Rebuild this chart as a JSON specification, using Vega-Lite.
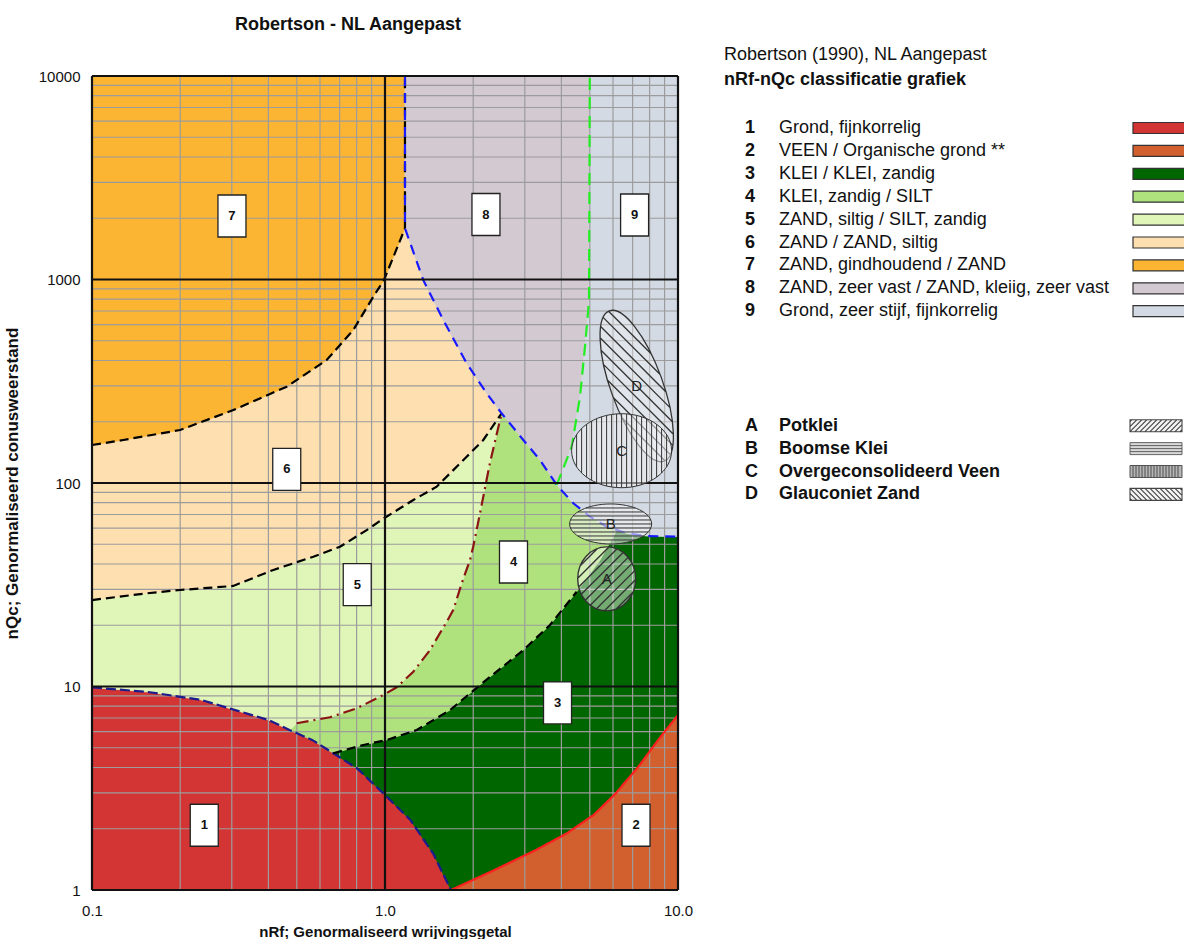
{
  "$schema": "https://vega.github.io/schema/vega-lite/v6.json",
  "width": 586,
  "height": 814,
  "autosize": {"type": "none"},
  "padding": {"left": 92, "top": 76, "right": 506, "bottom": 49},
  "background": "white",
  "config": {
    "font": "Liberation Sans",
    "view": {"stroke": null},
    "text": {"font": "Liberation Sans"}
  },
  "title": {
    "text": "Robertson - NL Aangepast",
    "fontSize": 18,
    "fontWeight": "bold",
    "color": "#111",
    "anchor": "middle",
    "dx": -37,
    "baseline": "bottom",
    "offset": -6
  },
  "datasets": {
    "zones": [
      {"z": "1", "i": 0, "x": 0.1, "y": 1}, {"z": "1", "i": 1, "x": 0.1, "y": 9.9}, {"z": "1", "i": 2, "x": 0.155, "y": 9.4},
      {"z": "1", "i": 3, "x": 0.235, "y": 8.6}, {"z": "1", "i": 4, "x": 0.4, "y": 6.85}, {"z": "1", "i": 5, "x": 0.474, "y": 6.1},
      {"z": "1", "i": 6, "x": 0.566, "y": 5.45}, {"z": "1", "i": 7, "x": 0.666, "y": 4.7}, {"z": "1", "i": 8, "x": 0.803, "y": 3.96},
      {"z": "1", "i": 9, "x": 1.0, "y": 2.93}, {"z": "1", "i": 10, "x": 1.22, "y": 2.21}, {"z": "1", "i": 11, "x": 1.46, "y": 1.51},
      {"z": "1", "i": 12, "x": 1.68, "y": 1},

      {"z": "2", "i": 0, "x": 1.68, "y": 1}, {"z": "2", "i": 1, "x": 2.3, "y": 1.23}, {"z": "2", "i": 2, "x": 3.27, "y": 1.57},
      {"z": "2", "i": 3, "x": 4.18, "y": 1.9}, {"z": "2", "i": 4, "x": 5.16, "y": 2.34}, {"z": "2", "i": 5, "x": 6.14, "y": 2.99},
      {"z": "2", "i": 6, "x": 7.33, "y": 4.04}, {"z": "2", "i": 7, "x": 8.73, "y": 5.67}, {"z": "2", "i": 8, "x": 10, "y": 7.24},
      {"z": "2", "i": 9, "x": 10, "y": 1},

      {"z": "3", "i": 0, "x": 0.666, "y": 4.7}, {"z": "3", "i": 1, "x": 0.843, "y": 5.16}, {"z": "3", "i": 2, "x": 1.013, "y": 5.46},
      {"z": "3", "i": 3, "x": 1.283, "y": 6.11}, {"z": "3", "i": 4, "x": 1.667, "y": 7.66}, {"z": "3", "i": 5, "x": 2.11, "y": 10.17},
      {"z": "3", "i": 6, "x": 2.965, "y": 15.1}, {"z": "3", "i": 7, "x": 3.657, "y": 20.05}, {"z": "3", "i": 8, "x": 4.51, "y": 29.2},
      {"z": "3", "i": 9, "x": 5.42, "y": 41.8}, {"z": "3", "i": 10, "x": 6.19, "y": 58.8}, {"z": "3", "i": 11, "x": 6.68, "y": 56.6},
      {"z": "3", "i": 12, "x": 7.82, "y": 54.9}, {"z": "3", "i": 13, "x": 10, "y": 54.5}, {"z": "3", "i": 14, "x": 10, "y": 7.24},
      {"z": "3", "i": 15, "x": 8.73, "y": 5.67}, {"z": "3", "i": 16, "x": 7.33, "y": 4.04}, {"z": "3", "i": 17, "x": 6.14, "y": 2.99},
      {"z": "3", "i": 18, "x": 5.16, "y": 2.34}, {"z": "3", "i": 19, "x": 4.18, "y": 1.9}, {"z": "3", "i": 20, "x": 3.27, "y": 1.57},
      {"z": "3", "i": 21, "x": 2.3, "y": 1.23}, {"z": "3", "i": 22, "x": 1.68, "y": 1}, {"z": "3", "i": 23, "x": 1.46, "y": 1.51},
      {"z": "3", "i": 24, "x": 1.22, "y": 2.21}, {"z": "3", "i": 25, "x": 1.0, "y": 2.93}, {"z": "3", "i": 26, "x": 0.803, "y": 3.96},

      {"z": "4", "i": 0, "x": 2.5, "y": 220}, {"z": "4", "i": 1, "x": 2.965, "y": 162.7}, {"z": "4", "i": 2, "x": 3.381, "y": 129.7},
      {"z": "4", "i": 3, "x": 3.855, "y": 97.8}, {"z": "4", "i": 4, "x": 4.392, "y": 79.5}, {"z": "4", "i": 5, "x": 5.008, "y": 68.3},
      {"z": "4", "i": 6, "x": 5.71, "y": 61}, {"z": "4", "i": 7, "x": 6.19, "y": 58.8}, {"z": "4", "i": 8, "x": 5.42, "y": 41.8},
      {"z": "4", "i": 9, "x": 4.51, "y": 29.2}, {"z": "4", "i": 10, "x": 3.657, "y": 20.05}, {"z": "4", "i": 11, "x": 2.965, "y": 15.1},
      {"z": "4", "i": 12, "x": 2.11, "y": 10.17}, {"z": "4", "i": 13, "x": 1.667, "y": 7.66}, {"z": "4", "i": 14, "x": 1.283, "y": 6.11},
      {"z": "4", "i": 15, "x": 1.013, "y": 5.46}, {"z": "4", "i": 16, "x": 0.843, "y": 5.16}, {"z": "4", "i": 17, "x": 0.666, "y": 4.7},
      {"z": "4", "i": 18, "x": 0.566, "y": 5.45}, {"z": "4", "i": 19, "x": 0.474, "y": 6.1}, {"z": "4", "i": 20, "x": 0.4995, "y": 6.6},
      {"z": "4", "i": 21, "x": 0.649, "y": 7.06}, {"z": "4", "i": 22, "x": 0.8005, "y": 7.81}, {"z": "4", "i": 23, "x": 0.987, "y": 9.08},
      {"z": "4", "i": 24, "x": 1.096, "y": 9.91}, {"z": "4", "i": 25, "x": 1.249, "y": 11.82}, {"z": "4", "i": 26, "x": 1.424, "y": 15.1},
      {"z": "4", "i": 27, "x": 1.624, "y": 20.8}, {"z": "4", "i": 28, "x": 1.711, "y": 23.8}, {"z": "4", "i": 29, "x": 1.827, "y": 32.1},
      {"z": "4", "i": 30, "x": 1.95, "y": 41.8}, {"z": "4", "i": 31, "x": 2.0, "y": 48.6}, {"z": "4", "i": 32, "x": 2.11, "y": 71},
      {"z": "4", "i": 33, "x": 2.28, "y": 125},

      {"z": "5", "i": 0, "x": 0.1, "y": 26.6}, {"z": "5", "i": 1, "x": 0.1537, "y": 28.7}, {"z": "5", "i": 2, "x": 0.1997, "y": 29.8},
      {"z": "5", "i": 3, "x": 0.3036, "y": 31.2}, {"z": "5", "i": 4, "x": 0.4157, "y": 37.4}, {"z": "5", "i": 5, "x": 0.569, "y": 43.4},
      {"z": "5", "i": 6, "x": 0.702, "y": 48.6}, {"z": "5", "i": 7, "x": 0.866, "y": 58.7}, {"z": "5", "i": 8, "x": 0.992, "y": 67.1},
      {"z": "5", "i": 9, "x": 1.125, "y": 75.1}, {"z": "5", "i": 10, "x": 1.249, "y": 82.5}, {"z": "5", "i": 11, "x": 1.501, "y": 95.9},
      {"z": "5", "i": 12, "x": 1.9, "y": 134.6}, {"z": "5", "i": 13, "x": 2.165, "y": 162.7}, {"z": "5", "i": 14, "x": 2.5, "y": 220},
      {"z": "5", "i": 15, "x": 2.28, "y": 125}, {"z": "5", "i": 16, "x": 2.11, "y": 71}, {"z": "5", "i": 17, "x": 2.0, "y": 48.6},
      {"z": "5", "i": 18, "x": 1.95, "y": 41.8}, {"z": "5", "i": 19, "x": 1.827, "y": 32.1}, {"z": "5", "i": 20, "x": 1.711, "y": 23.8},
      {"z": "5", "i": 21, "x": 1.624, "y": 20.8}, {"z": "5", "i": 22, "x": 1.424, "y": 15.1}, {"z": "5", "i": 23, "x": 1.249, "y": 11.82},
      {"z": "5", "i": 24, "x": 1.096, "y": 9.91}, {"z": "5", "i": 25, "x": 0.987, "y": 9.08}, {"z": "5", "i": 26, "x": 0.8005, "y": 7.81},
      {"z": "5", "i": 27, "x": 0.649, "y": 7.06}, {"z": "5", "i": 28, "x": 0.4995, "y": 6.6}, {"z": "5", "i": 29, "x": 0.474, "y": 6.1},
      {"z": "5", "i": 30, "x": 0.4, "y": 6.85}, {"z": "5", "i": 31, "x": 0.235, "y": 8.6}, {"z": "5", "i": 32, "x": 0.155, "y": 9.4},
      {"z": "5", "i": 33, "x": 0.1, "y": 9.9},

      {"z": "6", "i": 0, "x": 0.1, "y": 153.7}, {"z": "6", "i": 1, "x": 0.1279, "y": 162.7}, {"z": "6", "i": 2, "x": 0.1997, "y": 182.1},
      {"z": "6", "i": 3, "x": 0.3036, "y": 228.4}, {"z": "6", "i": 4, "x": 0.462, "y": 297.3}, {"z": "6", "i": 5, "x": 0.6324, "y": 402.1},
      {"z": "6", "i": 6, "x": 0.7792, "y": 564.8}, {"z": "6", "i": 7, "x": 0.9122, "y": 823}, {"z": "6", "i": 8, "x": 0.992, "y": 994},
      {"z": "6", "i": 9, "x": 1.17, "y": 1784}, {"z": "6", "i": 10, "x": 1.351, "y": 994}, {"z": "6", "i": 11, "x": 1.581, "y": 632},
      {"z": "6", "i": 12, "x": 1.9, "y": 387.4}, {"z": "6", "i": 13, "x": 2.224, "y": 275.9}, {"z": "6", "i": 14, "x": 2.5, "y": 220},
      {"z": "6", "i": 15, "x": 2.165, "y": 162.7}, {"z": "6", "i": 16, "x": 1.9, "y": 134.6}, {"z": "6", "i": 17, "x": 1.501, "y": 95.9},
      {"z": "6", "i": 18, "x": 1.249, "y": 82.5}, {"z": "6", "i": 19, "x": 1.125, "y": 75.1}, {"z": "6", "i": 20, "x": 0.992, "y": 67.1},
      {"z": "6", "i": 21, "x": 0.866, "y": 58.7}, {"z": "6", "i": 22, "x": 0.702, "y": 48.6}, {"z": "6", "i": 23, "x": 0.569, "y": 43.4},
      {"z": "6", "i": 24, "x": 0.4157, "y": 37.4}, {"z": "6", "i": 25, "x": 0.3036, "y": 31.2}, {"z": "6", "i": 26, "x": 0.1997, "y": 29.8},
      {"z": "6", "i": 27, "x": 0.1537, "y": 28.7}, {"z": "6", "i": 28, "x": 0.1, "y": 26.6},

      {"z": "7", "i": 0, "x": 0.1, "y": 10000}, {"z": "7", "i": 1, "x": 1.17, "y": 10000}, {"z": "7", "i": 2, "x": 1.17, "y": 1784},
      {"z": "7", "i": 3, "x": 0.992, "y": 994}, {"z": "7", "i": 4, "x": 0.9122, "y": 823}, {"z": "7", "i": 5, "x": 0.7792, "y": 564.8},
      {"z": "7", "i": 6, "x": 0.6324, "y": 402.1}, {"z": "7", "i": 7, "x": 0.462, "y": 297.3}, {"z": "7", "i": 8, "x": 0.3036, "y": 228.4},
      {"z": "7", "i": 9, "x": 0.1997, "y": 182.1}, {"z": "7", "i": 10, "x": 0.1279, "y": 162.7}, {"z": "7", "i": 11, "x": 0.1, "y": 153.7},

      {"z": "8", "i": 0, "x": 1.17, "y": 10000}, {"z": "8", "i": 1, "x": 5, "y": 10000}, {"z": "8", "i": 2, "x": 4.97, "y": 793},
      {"z": "8", "i": 3, "x": 4.815, "y": 467.6}, {"z": "8", "i": 4, "x": 4.63, "y": 265.5}, {"z": "8", "i": 5, "x": 4.338, "y": 150.8},
      {"z": "8", "i": 6, "x": 3.855, "y": 97.8}, {"z": "8", "i": 7, "x": 3.381, "y": 129.7}, {"z": "8", "i": 8, "x": 2.965, "y": 162.7},
      {"z": "8", "i": 9, "x": 2.5, "y": 220}, {"z": "8", "i": 10, "x": 2.224, "y": 275.9}, {"z": "8", "i": 11, "x": 1.9, "y": 387.4},
      {"z": "8", "i": 12, "x": 1.581, "y": 632}, {"z": "8", "i": 13, "x": 1.351, "y": 994}, {"z": "8", "i": 14, "x": 1.17, "y": 1784},

      {"z": "9", "i": 0, "x": 5, "y": 10000}, {"z": "9", "i": 1, "x": 10, "y": 10000}, {"z": "9", "i": 2, "x": 10, "y": 54.5},
      {"z": "9", "i": 3, "x": 7.82, "y": 54.9}, {"z": "9", "i": 4, "x": 6.68, "y": 56.6}, {"z": "9", "i": 5, "x": 6.19, "y": 58.8},
      {"z": "9", "i": 6, "x": 5.71, "y": 61}, {"z": "9", "i": 7, "x": 5.008, "y": 68.3}, {"z": "9", "i": 8, "x": 4.392, "y": 79.5},
      {"z": "9", "i": 9, "x": 3.855, "y": 97.8}, {"z": "9", "i": 10, "x": 4.338, "y": 150.8}, {"z": "9", "i": 11, "x": 4.63, "y": 265.5},
      {"z": "9", "i": 12, "x": 4.815, "y": 467.6}, {"z": "9", "i": 13, "x": 4.97, "y": 793}
    ],
    "bounds": [
      {"b": "B1", "i": 0, "x": 0.1, "y": 9.9}, {"b": "B1", "i": 1, "x": 0.155, "y": 9.4}, {"b": "B1", "i": 2, "x": 0.235, "y": 8.6},
      {"b": "B1", "i": 3, "x": 0.4, "y": 6.85}, {"b": "B1", "i": 4, "x": 0.474, "y": 6.1}, {"b": "B1", "i": 5, "x": 0.566, "y": 5.45},
      {"b": "B1", "i": 6, "x": 0.666, "y": 4.7}, {"b": "B1", "i": 7, "x": 0.803, "y": 3.96}, {"b": "B1", "i": 8, "x": 1.0, "y": 2.93},
      {"b": "B1", "i": 9, "x": 1.22, "y": 2.21}, {"b": "B1", "i": 10, "x": 1.46, "y": 1.51}, {"b": "B1", "i": 11, "x": 1.68, "y": 1},

      {"b": "B2", "i": 0, "x": 1.68, "y": 1}, {"b": "B2", "i": 1, "x": 2.3, "y": 1.23}, {"b": "B2", "i": 2, "x": 3.27, "y": 1.57},
      {"b": "B2", "i": 3, "x": 4.18, "y": 1.9}, {"b": "B2", "i": 4, "x": 5.16, "y": 2.34}, {"b": "B2", "i": 5, "x": 6.14, "y": 2.99},
      {"b": "B2", "i": 6, "x": 7.33, "y": 4.04}, {"b": "B2", "i": 7, "x": 8.73, "y": 5.67}, {"b": "B2", "i": 8, "x": 10, "y": 7.24},

      {"b": "B3", "i": 0, "x": 0.666, "y": 4.7}, {"b": "B3", "i": 1, "x": 0.843, "y": 5.16}, {"b": "B3", "i": 2, "x": 1.013, "y": 5.46},
      {"b": "B3", "i": 3, "x": 1.283, "y": 6.11}, {"b": "B3", "i": 4, "x": 1.667, "y": 7.66}, {"b": "B3", "i": 5, "x": 2.11, "y": 10.17},
      {"b": "B3", "i": 6, "x": 2.965, "y": 15.1}, {"b": "B3", "i": 7, "x": 3.657, "y": 20.05}, {"b": "B3", "i": 8, "x": 4.51, "y": 29.2},

      {"b": "B4", "i": 0, "x": 0.4995, "y": 6.6}, {"b": "B4", "i": 1, "x": 0.649, "y": 7.06}, {"b": "B4", "i": 2, "x": 0.8005, "y": 7.81},
      {"b": "B4", "i": 3, "x": 0.987, "y": 9.08}, {"b": "B4", "i": 4, "x": 1.096, "y": 9.91}, {"b": "B4", "i": 5, "x": 1.249, "y": 11.82},
      {"b": "B4", "i": 6, "x": 1.424, "y": 15.1}, {"b": "B4", "i": 7, "x": 1.624, "y": 20.8}, {"b": "B4", "i": 8, "x": 1.711, "y": 23.8},
      {"b": "B4", "i": 9, "x": 1.827, "y": 32.1}, {"b": "B4", "i": 10, "x": 1.95, "y": 41.8}, {"b": "B4", "i": 11, "x": 2.0, "y": 48.6},
      {"b": "B4", "i": 12, "x": 2.11, "y": 71}, {"b": "B4", "i": 13, "x": 2.28, "y": 125}, {"b": "B4", "i": 14, "x": 2.5, "y": 220},

      {"b": "B5", "i": 0, "x": 0.1, "y": 26.6}, {"b": "B5", "i": 1, "x": 0.1537, "y": 28.7}, {"b": "B5", "i": 2, "x": 0.1997, "y": 29.8},
      {"b": "B5", "i": 3, "x": 0.3036, "y": 31.2}, {"b": "B5", "i": 4, "x": 0.4157, "y": 37.4}, {"b": "B5", "i": 5, "x": 0.569, "y": 43.4},
      {"b": "B5", "i": 6, "x": 0.702, "y": 48.6}, {"b": "B5", "i": 7, "x": 0.866, "y": 58.7}, {"b": "B5", "i": 8, "x": 0.992, "y": 67.1},
      {"b": "B5", "i": 9, "x": 1.125, "y": 75.1}, {"b": "B5", "i": 10, "x": 1.249, "y": 82.5}, {"b": "B5", "i": 11, "x": 1.501, "y": 95.9},
      {"b": "B5", "i": 12, "x": 1.9, "y": 134.6}, {"b": "B5", "i": 13, "x": 2.165, "y": 162.7}, {"b": "B5", "i": 14, "x": 2.5, "y": 220},

      {"b": "B6", "i": 0, "x": 0.1, "y": 153.7}, {"b": "B6", "i": 1, "x": 0.1279, "y": 162.7}, {"b": "B6", "i": 2, "x": 0.1997, "y": 182.1},
      {"b": "B6", "i": 3, "x": 0.3036, "y": 228.4}, {"b": "B6", "i": 4, "x": 0.462, "y": 297.3}, {"b": "B6", "i": 5, "x": 0.6324, "y": 402.1},
      {"b": "B6", "i": 6, "x": 0.7792, "y": 564.8}, {"b": "B6", "i": 7, "x": 0.9122, "y": 823}, {"b": "B6", "i": 8, "x": 0.992, "y": 994},
      {"b": "B6", "i": 9, "x": 1.17, "y": 1784},

      {"b": "B7", "i": 0, "x": 1.17, "y": 1784}, {"b": "B7", "i": 1, "x": 1.17, "y": 10000},

      {"b": "B8", "i": 0, "x": 1.17, "y": 10000}, {"b": "B8", "i": 1, "x": 1.17, "y": 1784}, {"b": "B8", "i": 2, "x": 1.351, "y": 994},
      {"b": "B8", "i": 3, "x": 1.581, "y": 632}, {"b": "B8", "i": 4, "x": 1.9, "y": 387.4}, {"b": "B8", "i": 5, "x": 2.224, "y": 275.9},
      {"b": "B8", "i": 6, "x": 2.5, "y": 220}, {"b": "B8", "i": 7, "x": 2.965, "y": 162.7}, {"b": "B8", "i": 8, "x": 3.381, "y": 129.7},
      {"b": "B8", "i": 9, "x": 3.855, "y": 97.8}, {"b": "B8", "i": 10, "x": 4.392, "y": 79.5}, {"b": "B8", "i": 11, "x": 5.008, "y": 68.3},
      {"b": "B8", "i": 12, "x": 5.71, "y": 61}, {"b": "B8", "i": 13, "x": 6.19, "y": 58.8}, {"b": "B8", "i": 14, "x": 6.68, "y": 56.6},
      {"b": "B8", "i": 15, "x": 7.82, "y": 54.9}, {"b": "B8", "i": 16, "x": 10, "y": 54.5},

      {"b": "B9", "i": 0, "x": 3.855, "y": 97.8}, {"b": "B9", "i": 1, "x": 4.338, "y": 150.8}, {"b": "B9", "i": 2, "x": 4.63, "y": 265.5},
      {"b": "B9", "i": 3, "x": 4.815, "y": 467.6}, {"b": "B9", "i": 4, "x": 4.97, "y": 793}, {"b": "B9", "i": 5, "x": 5, "y": 10000}
    ],
    "gx": [
      {"v": 0.1}, {"v": 0.2}, {"v": 0.3}, {"v": 0.4}, {"v": 0.5}, {"v": 0.6}, {"v": 0.7}, {"v": 0.8}, {"v": 0.9},
      {"v": 1}, {"v": 2}, {"v": 3}, {"v": 4}, {"v": 5}, {"v": 6}, {"v": 7}, {"v": 8}, {"v": 9}, {"v": 10}
    ],
    "gy": [
      {"v": 1}, {"v": 2}, {"v": 3}, {"v": 4}, {"v": 5}, {"v": 6}, {"v": 7}, {"v": 8}, {"v": 9},
      {"v": 10}, {"v": 20}, {"v": 30}, {"v": 40}, {"v": 50}, {"v": 60}, {"v": 70}, {"v": 80}, {"v": 90},
      {"v": 100}, {"v": 200}, {"v": 300}, {"v": 400}, {"v": 500}, {"v": 600}, {"v": 700}, {"v": 800}, {"v": 900},
      {"v": 1000}, {"v": 2000}, {"v": 3000}, {"v": 4000}, {"v": 5000}, {"v": 6000}, {"v": 7000}, {"v": 8000}, {"v": 9000},
      {"v": 10000}
    ],
    "ell": [
      {"k": "A", "x": 5.71, "y": 33.8},
      {"k": "B", "x": 5.89, "y": 62.9},
      {"k": "C", "x": 6.42, "y": 144.1},
      {"k": "D", "x": 7.23, "y": 299.7}
    ],
    "box": [
      {"n": "1", "x": 0.2416, "y": 2.08}, {"n": "2", "x": 7.19, "y": 2.08}, {"n": "3", "x": 3.88, "y": 8.3},
      {"n": "4", "x": 2.745, "y": 40.9}, {"n": "5", "x": 0.804, "y": 31.7}, {"n": "6", "x": 0.462, "y": 116.8},
      {"n": "7", "x": 0.3004, "y": 2051}, {"n": "8", "x": 2.211, "y": 2086}, {"n": "9", "x": 7.11, "y": 2075}
    ],
    "leg": [
      {"k": "1", "t": "Grond, fijnkorrelig", "r": 0, "z": "1"},
      {"k": "2", "t": "VEEN / Organische grond **", "r": 1, "z": "2"},
      {"k": "3", "t": "KLEI / KLEI, zandig", "r": 2, "z": "3"},
      {"k": "4", "t": "KLEI, zandig / SILT", "r": 3, "z": "4"},
      {"k": "5", "t": "ZAND, siltig / SILT, zandig", "r": 4, "z": "5"},
      {"k": "6", "t": "ZAND / ZAND, siltig", "r": 5, "z": "6"},
      {"k": "7", "t": "ZAND, gindhoudend / ZAND", "r": 6, "z": "7"},
      {"k": "8", "t": "ZAND, zeer vast / ZAND, kleiig, zeer vast", "r": 7, "z": "8"},
      {"k": "9", "t": "Grond, zeer stijf, fijnkorrelig", "r": 8, "z": "9"}
    ],
    "legb": [
      {"k": "A", "t": "Potklei", "r": 13},
      {"k": "B", "t": "Boomse Klei", "r": 14},
      {"k": "C", "t": "Overgeconsolideerd Veen", "r": 15},
      {"k": "D", "t": "Glauconiet Zand", "r": 16}
    ]
  },
  "layer": [
    {
      "data": {"name": "zones"},
      "mark": {"type": "line", "interpolate": "linear-closed", "strokeWidth": 0.8},
      "encoding": {
        "x": {
          "field": "x", "type": "quantitative",
          "scale": {"type": "log", "domain": [0.1, 10], "nice": false},
          "axis": {
            "orient": "bottom",
            "values": [0.1, 1, 10], "format": ".1f", "grid": false, "ticks": false, "domain": false,
            "labelFlush": false, "labelFontSize": 15, "labelColor": "#111", "labelPadding": 13,
            "title": "nRf; Genormaliseerd wrijvingsgetal", "titleFontSize": 15, "titleFontWeight": "bold",
            "titleColor": "#111", "titlePadding": 6
          }
        },
        "y": {
          "field": "y", "type": "quantitative",
          "scale": {"type": "log", "domain": [1, 10000], "nice": false},
          "axis": {
            "orient": "left",
            "values": [1, 10, 100, 1000, 10000], "format": "d", "grid": false, "ticks": false, "domain": false,
            "labelFontSize": 15, "labelColor": "#111", "labelPadding": 12,
            "title": "nQc; Genormaliseerd conusweerstand", "titleFontSize": 17, "titleFontWeight": "bold",
            "titleColor": "#111", "titlePadding": 17
          }
        },
        "fill": {
          "field": "z", "type": "nominal", "legend": null,
          "scale": {
            "domain": ["1", "2", "3", "4", "5", "6", "7", "8", "9"],
            "range": ["#d33434", "#d2602f", "#006600", "#afe27c", "#e0f5b8", "#fddfb0", "#fbb533", "#d2c9d1", "#d3dae3"]
          }
        },
        "stroke": {
          "field": "z", "type": "nominal", "legend": null,
          "scale": {
            "domain": ["1", "2", "3", "4", "5", "6", "7", "8", "9"],
            "range": ["#d33434", "#d2602f", "#006600", "#afe27c", "#e0f5b8", "#fddfb0", "#fbb533", "#d2c9d1", "#d3dae3"]
          }
        },
        "order": {"field": "i", "type": "quantitative"}
      }
    },
    {
      "data": {"name": "gx"},
      "transform": [{"filter": "datum.v != 0.1 && datum.v != 1 && datum.v != 10"}],
      "mark": {"type": "rule", "color": "#9c9c9c", "strokeWidth": 1.2},
      "encoding": {
        "x": {"field": "v", "type": "quantitative", "scale": {"type": "log", "domain": [0.1, 10], "nice": false}, "axis": null}
      }
    },
    {
      "data": {"name": "gy"},
      "transform": [{"filter": "indexof([1, 10, 100, 1000, 10000], datum.v) < 0"}],
      "mark": {"type": "rule", "color": "#9c9c9c", "strokeWidth": 1.2},
      "encoding": {
        "y": {"field": "v", "type": "quantitative", "scale": {"type": "log", "domain": [1, 10000], "nice": false}, "axis": null}
      }
    },
    {
      "data": {"name": "bounds"},
      "mark": {"type": "line", "strokeWidth": 2.2},
      "encoding": {
        "x": {"field": "x", "type": "quantitative", "scale": {"type": "log", "domain": [0.1, 10], "nice": false}, "axis": null},
        "y": {"field": "y", "type": "quantitative", "scale": {"type": "log", "domain": [1, 10000], "nice": false}, "axis": null},
        "color": {
          "field": "b", "type": "nominal", "legend": null,
          "scale": {
            "domain": ["B1", "B2", "B3", "B4", "B5", "B6", "B7", "B8", "B9"],
            "range": ["#1c1c8c", "#ff2020", "#000000", "#8b1414", "#000000", "#000000", "#000000", "#1a1aff", "#22ee22"]
          }
        },
        "strokeDash": {
          "field": "b", "type": "nominal", "legend": null,
          "scale": {
            "domain": ["B1", "B2", "B3", "B4", "B5", "B6", "B7", "B8", "B9"],
            "range": [[10, 4], [1, 0], [9, 5], [12, 5, 2, 5], [9, 5], [9, 5], [9, 5], [10, 7], [12, 7]]
          }
        },
        "order": {"field": "i", "type": "quantitative"}
      }
    },
    {
      "data": {"name": "gx"},
      "transform": [{"filter": "datum.v == 0.1 || datum.v == 1 || datum.v == 10"}],
      "mark": {"type": "rule", "color": "#111", "strokeWidth": 2.2},
      "encoding": {
        "x": {"field": "v", "type": "quantitative", "scale": {"type": "log", "domain": [0.1, 10], "nice": false}, "axis": null}
      }
    },
    {
      "data": {"name": "gy"},
      "transform": [{"filter": "indexof([1, 10, 100, 1000, 10000], datum.v) >= 0"}],
      "mark": {"type": "rule", "color": "#111", "strokeWidth": 2.2},
      "encoding": {
        "y": {"field": "v", "type": "quantitative", "scale": {"type": "log", "domain": [1, 10000], "nice": false}, "axis": null}
      }
    },
    {
      "data": {"name": "ell"},
      "transform": [{"filter": "datum.k == 'A'"}],
      "mark": {
        "type": "point", "filled": true, "opacity": 1, "size": 4, "fill": "white", "fillOpacity": 0.45,
        "stroke": "#333", "strokeWidth": 1.4,
        "shape": "M29,0C29,17.67 16.02,32 0,32C-16.02,32 -29,17.67 -29,0C-29,-17.67 -16.02,-32 0,-32C16.02,-32 29,-17.67 29,0Z M21.49,-21.49L-21.49,21.49 M25.38,-15.49L-16.46,26.35 M16.46,-26.35L-25.38,15.49 M28.02,-8.24L-10.18,29.96 M10.18,-29.96L-28.02,8.24 M29,0.68L-2.24,31.91 M2.24,-31.91L-29,-0.68 M26.46,13.1L9.22,30.34 M-9.22,-30.34L-26.46,-13.1"
      },
      "encoding": {
        "x": {"field": "x", "type": "quantitative", "scale": {"type": "log", "domain": [0.1, 10], "nice": false}, "axis": null},
        "y": {"field": "y", "type": "quantitative", "scale": {"type": "log", "domain": [1, 10000], "nice": false}, "axis": null}
      }
    },
    {
      "data": {"name": "ell"},
      "transform": [{"filter": "datum.k == 'B'"}],
      "mark": {
        "type": "point", "filled": true, "opacity": 1, "size": 4, "fill": "#f2f2f2", "fillOpacity": 0.6,
        "stroke": "#333", "strokeWidth": 1,
        "shape": "M41,0C41,11.05 22.64,20 0,20C-22.64,20 -41,11.05 -41,0C-41,-11.05 -22.64,-20 0,-20C22.64,-20 41,-11.05 41,0Z M-24.6,-16H24.6 M-32.8,-12H32.8 M-37.58,-8H37.58 M-40.17,-4H40.17 M-41,0H41 M-40.17,4H40.17 M-37.58,8H37.58 M-32.8,12H32.8 M-24.6,16H24.6"
      },
      "encoding": {
        "x": {"field": "x", "type": "quantitative", "scale": {"type": "log", "domain": [0.1, 10], "nice": false}, "axis": null},
        "y": {"field": "y", "type": "quantitative", "scale": {"type": "log", "domain": [1, 10000], "nice": false}, "axis": null}
      }
    },
    {
      "data": {"name": "ell"},
      "transform": [{"filter": "datum.k == 'D'"}],
      "mark": {
        "type": "point", "filled": true, "opacity": 1, "size": 4, "fill": "white", "fillOpacity": 0.3,
        "stroke": "#333", "strokeWidth": 1.3, "angle": 340,
        "shape": "M26,0C26,44.18 14.36,80 0,80C-14.36,80 -26,44.18 -26,0C-26,-44.18 -14.36,-80 0,-80C14.36,-80 26,-44.18 26,0Z M21.33,45.74L-21.33,-45.74 M17.92,57.94L-23.87,-31.69 M23.87,31.69L-17.92,-57.94 M13.6,68.18L-25.5,-15.67 M25.5,15.67L-13.6,-68.18 M8.14,75.97L-25.98,2.78 M25.98,-2.78L-8.14,-75.97 M0.9,79.95L-24.69,25.06 M24.69,-25.06L-0.9,-79.95"
      },
      "encoding": {
        "x": {"field": "x", "type": "quantitative", "scale": {"type": "log", "domain": [0.1, 10], "nice": false}, "axis": null},
        "y": {"field": "y", "type": "quantitative", "scale": {"type": "log", "domain": [1, 10000], "nice": false}, "axis": null}
      }
    },
    {
      "data": {"name": "ell"},
      "transform": [{"filter": "datum.k == 'C'"}],
      "mark": {
        "type": "point", "filled": true, "opacity": 1, "size": 4, "fill": "#f4f4f4", "fillOpacity": 0.5,
        "stroke": "#333", "strokeWidth": 1,
        "shape": "M50,0C50,20.44 27.62,37 0,37C-27.62,37 -50,20.44 -50,0C-50,-20.44 -27.62,-37 0,-37C27.62,-37 50,-20.44 50,0Z M-45,-16.13V16.13 M-40,-22.2V22.2 M-35,-26.42V26.42 M-30,-29.6V29.6 M-25,-32.04V32.04 M-20,-33.91V33.91 M-15,-35.3V35.3 M-10,-36.25V36.25 M-5,-36.81V36.81 M0,-37V37 M5,-36.81V36.81 M10,-36.25V36.25 M15,-35.3V35.3 M20,-33.91V33.91 M25,-32.04V32.04 M30,-29.6V29.6 M35,-26.42V26.42 M40,-22.2V22.2 M45,-16.13V16.13"
      },
      "encoding": {
        "x": {"field": "x", "type": "quantitative", "scale": {"type": "log", "domain": [0.1, 10], "nice": false}, "axis": null},
        "y": {"field": "y", "type": "quantitative", "scale": {"type": "log", "domain": [1, 10000], "nice": false}, "axis": null}
      }
    },
    {
      "data": {"name": "ell"},
      "mark": {"type": "text", "fontSize": 15, "color": "#222", "align": "center", "baseline": "middle"},
      "encoding": {
        "x": {"field": "x", "type": "quantitative", "scale": {"type": "log", "domain": [0.1, 10], "nice": false}, "axis": null},
        "y": {"field": "y", "type": "quantitative", "scale": {"type": "log", "domain": [1, 10000], "nice": false}, "axis": null},
        "text": {"field": "k"}
      }
    },
    {
      "data": {"name": "box"},
      "mark": {
        "type": "point", "filled": true, "opacity": 1, "size": 4, "fill": "white",
        "stroke": "#222", "strokeWidth": 1.3, "shape": "M-14,-21H14V21H-14Z"
      },
      "encoding": {
        "x": {"field": "x", "type": "quantitative", "scale": {"type": "log", "domain": [0.1, 10], "nice": false}, "axis": null},
        "y": {"field": "y", "type": "quantitative", "scale": {"type": "log", "domain": [1, 10000], "nice": false}, "axis": null}
      }
    },
    {
      "data": {"name": "box"},
      "mark": {"type": "text", "fontSize": 13, "fontWeight": "bold", "color": "#111", "align": "center", "baseline": "middle"},
      "encoding": {
        "x": {"field": "x", "type": "quantitative", "scale": {"type": "log", "domain": [0.1, 10], "nice": false}, "axis": null},
        "y": {"field": "y", "type": "quantitative", "scale": {"type": "log", "domain": [1, 10000], "nice": false}, "axis": null},
        "text": {"field": "n"}
      }
    },
    {
      "data": {"values": [{"t": "Robertson (1990), NL Aangepast", "r": -3.19}]},
      "mark": {"type": "text", "fontSize": 18, "color": "#111", "align": "left", "baseline": "middle"},
      "encoding": {
        "x": {"datum": 0, "type": "quantitative", "scale": {"domain": [0, 460], "range": [632, 1092], "nice": false, "zero": false}, "axis": null},
        "y": {"field": "r", "type": "quantitative", "scale": {"domain": [-2.271, 33.275], "reverse": true, "nice": false, "zero": false}, "axis": null},
        "text": {"field": "t"}
      }
    },
    {
      "data": {"values": [{"t": "nRf-nQc classificatie grafiek", "r": -2.1}]},
      "mark": {"type": "text", "fontSize": 18, "fontWeight": "bold", "color": "#111", "align": "left", "baseline": "middle"},
      "encoding": {
        "x": {"datum": 0, "type": "quantitative", "scale": {"domain": [0, 460], "range": [632, 1092], "nice": false, "zero": false}, "axis": null},
        "y": {"field": "r", "type": "quantitative", "scale": {"domain": [-2.271, 33.275], "reverse": true, "nice": false, "zero": false}, "axis": null},
        "text": {"field": "t"}
      }
    },
    {
      "data": {"name": "leg"},
      "mark": {"type": "text", "fontSize": 18, "fontWeight": "bold", "color": "#111", "align": "left", "baseline": "middle"},
      "encoding": {
        "x": {"datum": 21, "type": "quantitative", "scale": {"domain": [0, 460], "range": [632, 1092], "nice": false, "zero": false}, "axis": null},
        "y": {"field": "r", "type": "quantitative", "scale": {"domain": [-2.271, 33.275], "reverse": true, "nice": false, "zero": false}, "axis": null},
        "text": {"field": "k"}
      }
    },
    {
      "data": {"name": "leg"},
      "mark": {"type": "text", "fontSize": 18, "color": "#111", "align": "left", "baseline": "middle"},
      "encoding": {
        "x": {"datum": 55, "type": "quantitative", "scale": {"domain": [0, 460], "range": [632, 1092], "nice": false, "zero": false}, "axis": null},
        "y": {"field": "r", "type": "quantitative", "scale": {"domain": [-2.271, 33.275], "reverse": true, "nice": false, "zero": false}, "axis": null},
        "text": {"field": "t"}
      }
    },
    {
      "data": {"name": "leg"},
      "mark": {"type": "point", "filled": true, "opacity": 1, "size": 4, "stroke": "#333", "strokeWidth": 1.2, "shape": "M-26,-5.5H26V5.5H-26Z"},
      "encoding": {
        "x": {"datum": 435, "type": "quantitative", "scale": {"domain": [0, 460], "range": [632, 1092], "nice": false, "zero": false}, "axis": null},
        "y": {"field": "r", "type": "quantitative", "scale": {"domain": [-2.271, 33.275], "reverse": true, "nice": false, "zero": false}, "axis": null},
        "fill": {
          "field": "z", "type": "nominal", "legend": null,
          "scale": {
            "domain": ["1", "2", "3", "4", "5", "6", "7", "8", "9"],
            "range": ["#d33434", "#d2602f", "#006600", "#afe27c", "#e0f5b8", "#fddfb0", "#fbb533", "#d2c9d1", "#d3dae3"]
          }
        }
      }
    },
    {
      "data": {"name": "legb"},
      "mark": {"type": "text", "fontSize": 18, "fontWeight": "bold", "color": "#111", "align": "left", "baseline": "middle"},
      "encoding": {
        "x": {"datum": 21, "type": "quantitative", "scale": {"domain": [0, 460], "range": [632, 1092], "nice": false, "zero": false}, "axis": null},
        "y": {"field": "r", "type": "quantitative", "scale": {"domain": [-2.271, 33.275], "reverse": true, "nice": false, "zero": false}, "axis": null},
        "text": {"field": "k"}
      }
    },
    {
      "data": {"name": "legb"},
      "mark": {"type": "text", "fontSize": 18, "fontWeight": "bold", "color": "#111", "align": "left", "baseline": "middle"},
      "encoding": {
        "x": {"datum": 55, "type": "quantitative", "scale": {"domain": [0, 460], "range": [632, 1092], "nice": false, "zero": false}, "axis": null},
        "y": {"field": "r", "type": "quantitative", "scale": {"domain": [-2.271, 33.275], "reverse": true, "nice": false, "zero": false}, "axis": null},
        "text": {"field": "t"}
      }
    },
    {
      "data": {"name": "legb"},
      "transform": [{"filter": "datum.k == 'A'"}],
      "mark": {"type": "point", "filled": true, "opacity": 1, "size": 4, "fill": "#f4f4f4", "stroke": "#444", "strokeWidth": 1.1,
        "shape": "M-26,-6H26V6H-26Z M-26,-4L-24,-6 M-26,1L-19,-6 M-26,6L-14,-6 M-21,6L-9,-6 M-16,6L-4,-6 M-11,6L1,-6 M-6,6L6,-6 M-1,6L11,-6 M4,6L16,-6 M9,6L21,-6 M14,6L26,-6 M19,6L26,-1 M24,6L26,4"},
      "encoding": {
        "x": {"datum": 432, "type": "quantitative", "scale": {"domain": [0, 460], "range": [632, 1092], "nice": false, "zero": false}, "axis": null},
        "y": {"field": "r", "type": "quantitative", "scale": {"domain": [-2.271, 33.275], "reverse": true, "nice": false, "zero": false}, "axis": null}
      }
    },
    {
      "data": {"name": "legb"},
      "transform": [{"filter": "datum.k == 'B'"}],
      "mark": {"type": "point", "filled": true, "opacity": 1, "size": 4, "fill": "#d9d9d9", "stroke": "#555", "strokeWidth": 0.9,
        "shape": "M-26,-6H26V6H-26Z M-26,-3H26 M-26,0H26 M-26,3H26"},
      "encoding": {
        "x": {"datum": 432, "type": "quantitative", "scale": {"domain": [0, 460], "range": [632, 1092], "nice": false, "zero": false}, "axis": null},
        "y": {"field": "r", "type": "quantitative", "scale": {"domain": [-2.271, 33.275], "reverse": true, "nice": false, "zero": false}, "axis": null}
      }
    },
    {
      "data": {"name": "legb"},
      "transform": [{"filter": "datum.k == 'C'"}],
      "mark": {"type": "point", "filled": true, "opacity": 1, "size": 4, "fill": "#b5b5b5", "stroke": "#444", "strokeWidth": 0.9,
        "shape": "M-26,-6H26V6H-26Z M-23,-6V6 M-20,-6V6 M-17,-6V6 M-14,-6V6 M-11,-6V6 M-8,-6V6 M-5,-6V6 M-2,-6V6 M1,-6V6 M4,-6V6 M7,-6V6 M10,-6V6 M13,-6V6 M16,-6V6 M19,-6V6 M22,-6V6"},
      "encoding": {
        "x": {"datum": 432, "type": "quantitative", "scale": {"domain": [0, 460], "range": [632, 1092], "nice": false, "zero": false}, "axis": null},
        "y": {"field": "r", "type": "quantitative", "scale": {"domain": [-2.271, 33.275], "reverse": true, "nice": false, "zero": false}, "axis": null}
      }
    },
    {
      "data": {"name": "legb"},
      "transform": [{"filter": "datum.k == 'D'"}],
      "mark": {"type": "point", "filled": true, "opacity": 1, "size": 4, "fill": "#f4f4f4", "stroke": "#444", "strokeWidth": 1.1,
        "shape": "M-26,-6H26V6H-26Z M26,-4L24,-6 M26,1L19,-6 M26,6L14,-6 M21,6L9,-6 M16,6L4,-6 M11,6L-1,-6 M6,6L-6,-6 M1,6L-11,-6 M-4,6L-16,-6 M-9,6L-21,-6 M-14,6L-26,-6 M-19,6L-26,-1 M-24,6L-26,4"},
      "encoding": {
        "x": {"datum": 432, "type": "quantitative", "scale": {"domain": [0, 460], "range": [632, 1092], "nice": false, "zero": false}, "axis": null},
        "y": {"field": "r", "type": "quantitative", "scale": {"domain": [-2.271, 33.275], "reverse": true, "nice": false, "zero": false}, "axis": null}
      }
    }
  ],
  "resolve": {"scale": {"x": "independent", "y": "independent"}}
}
